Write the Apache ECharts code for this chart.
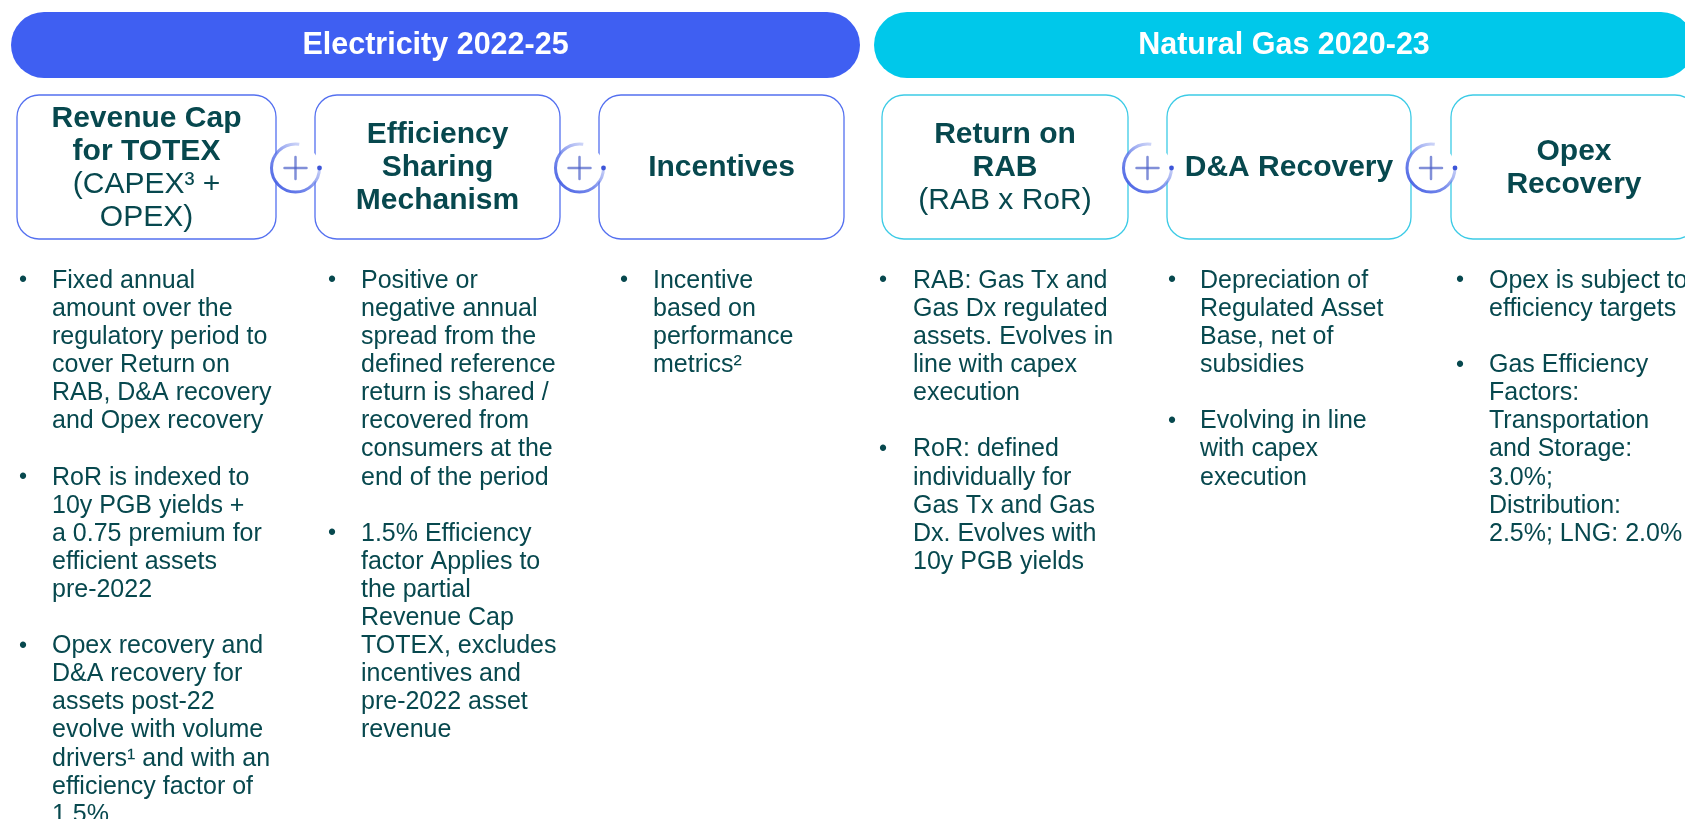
<!DOCTYPE html>
<html>
<head>
<meta charset="utf-8">
<script src="https://cdn.jsdelivr.net/npm/echarts@6/dist/echarts.min.js"></script>
<style>
  html, body { margin: 0; padding: 0; background: #fff; }
  #main { width: 1685px; height: 819px; }
</style>
</head>
<body>
<div id="main"></div>
<script>
'use strict';
/* regulatory framework overview: two sections, six building blocks, bullet notes */

var sectionTitles = ['Electricity 2022-25', 'Natural Gas 2020-23'];
var sectionColors = ['#3f5ff2', '#00c8ea'];

// bold heading lines, then regular sub lines, one entry per box
var boxHeads = [
  ['Revenue Cap', 'for TOTEX'],
  ['Efficiency', 'Sharing', 'Mechanism'],
  ['Incentives'],
  ['Return on', 'RAB'],
  ['D&A Recovery'],
  ['Opex', 'Recovery']
];
var boxSubs = [
  ['(CAPEX\u00b3 +', 'OPEX)'],
  [],
  [],
  ['(RAB x RoR)'],
  [],
  []
];
var boxSection = [0, 0, 0, 1, 1, 1];

// bullet notes under each box (lines as broken on the slide)
var bullets = [
  [
    ['Fixed annual', 'amount over the', 'regulatory period to', 'cover Return on', 'RAB, D&A recovery', 'and Opex recovery'],
    ['RoR is indexed to', '10y PGB yields +', 'a 0.75 premium for', 'efficient assets', 'pre-2022'],
    ['Opex recovery and', 'D&A recovery for', 'assets post-22', 'evolve with volume', 'drivers\u00b9 and with an', 'efficiency factor of', '1.5%']
  ],
  [
    ['Positive or', 'negative annual', 'spread from the', 'defined reference', 'return is shared /', 'recovered from', 'consumers at the', 'end of the period'],
    ['1.5% Efficiency', 'factor Applies to', 'the partial', 'Revenue Cap', 'TOTEX, excludes', 'incentives and', 'pre-2022 asset', 'revenue']
  ],
  [
    ['Incentive', 'based on', 'performance', 'metrics\u00b2']
  ],
  [
    ['RAB: Gas Tx and', 'Gas Dx regulated', 'assets. Evolves in', 'line with capex', 'execution'],
    ['RoR: defined', 'individually for', 'Gas Tx and Gas', 'Dx. Evolves with', '10y PGB yields']
  ],
  [
    ['Depreciation of', 'Regulated Asset', 'Base, net of', 'subsidies'],
    ['Evolving in line', 'with capex', 'execution']
  ],
  [
    ['Opex is subject to', 'efficiency targets'],
    ['Gas Efficiency', 'Factors:', 'Transportation', 'and Storage:', '3.0%;', 'Distribution:', '2.5%; LNG: 2.0%']
  ]
];

// layout
var FONT = '"Liberation Sans", Arial, sans-serif';
var TEAL = '#07484e';
var barX = [11, 874];
var barW = [849, 820];
var barY = 12, barH = 66;
var boxX = [17, 315, 599, 882, 1167, 1451];
var boxW = [259, 245, 245, 246, 244, 246];
var boxY = 95, boxH = 144;
var boxBorder = ['#5470f0', '#3ccbe6'];
var dotX = [23, 332, 624, 883, 1172, 1460];
var textX = [52, 361, 653, 913, 1200, 1489];
var bulletTop = 281;
var lineH = 28.1;
var headLineH = 33;

var elements = [];

// section bars
for (var s = 0; s < sectionTitles.length; s++) {
  elements.push({
    type: 'rect',
    shape: { x: barX[s], y: barY, width: barW[s], height: barH, r: barH / 2 },
    style: { fill: sectionColors[s] }
  });
  elements.push({
    type: 'text',
    x: s === 0 ? barX[s] + barW[s] / 2 : 1284,
    y: barY + barH / 2 + 1,
    style: {
      text: sectionTitles[s],
      font: 'bold 30.5px ' + FONT,
      fill: '#ffffff',
      align: 'center',
      verticalAlign: 'middle'
    }
  });
}

// boxes
for (var b = 0; b < boxHeads.length; b++) {
  elements.push({
    type: 'rect',
    shape: { x: boxX[b], y: boxY, width: boxW[b], height: boxH, r: 22 },
    style: { fill: '#ffffff', stroke: boxBorder[boxSection[b]], lineWidth: 1.3 }
  });
  var lines = [];
  for (var i = 0; i < boxHeads[b].length; i++) lines.push({ t: boxHeads[b][i], bold: true });
  for (var j = 0; j < boxSubs[b].length; j++) lines.push({ t: boxSubs[b][j], bold: false });
  var cy = boxY + boxH / 2 + 1;
  var y0 = cy - (lines.length - 1) * headLineH / 2;
  for (var k = 0; k < lines.length; k++) {
    elements.push({
      type: 'text',
      x: boxX[b] + boxW[b] / 2,
      y: y0 + k * headLineH,
      style: {
        text: lines[k].t,
        font: (lines[k].bold ? 'bold ' : '') + '30px ' + FONT,
        fill: TEAL,
        align: 'center',
        verticalAlign: 'middle'
      }
    });
  }
}

// plus connectors between boxes of the same section
for (var p = 0; p < boxX.length - 1; p++) {
  if (boxSection[p] !== boxSection[p + 1]) continue;
  var px = (boxX[p] + boxW[p] + boxX[p + 1]) / 2;
  var py = 168;
  elements.push({
    type: 'circle',
    shape: { cx: px, cy: py, r: 24 },
    style: { fill: '#ffffff' }
  });
  elements.push({
    type: 'arc',
    shape: { cx: px, cy: py, r: 24, startAngle: 0, endAngle: Math.PI * 1.55, clockwise: true },
    style: {
      fill: null,
      lineWidth: 3,
      stroke: new echarts.graphic.LinearGradient(1, 0, 0, 1, [
        { offset: 0, color: 'rgba(160,175,240,0.1)' },
        { offset: 0.55, color: 'rgba(80,105,230,0.75)' },
        { offset: 1, color: '#3a55e2' }
      ])
    }
  });
  elements.push({
    type: 'circle',
    shape: { cx: px + 24, cy: py, r: 2.4 },
    style: { fill: '#3d55d8' }
  });
  elements.push({
    type: 'line',
    shape: { x1: px - 11, y1: py, x2: px + 11, y2: py },
    style: { stroke: 'rgba(75,95,200,0.7)', lineWidth: 2.5, lineCap: 'round' }
  });
  elements.push({
    type: 'line',
    shape: { x1: px, y1: py - 11, x2: px, y2: py + 11 },
    style: { stroke: 'rgba(75,95,200,0.7)', lineWidth: 2.5, lineCap: 'round' }
  });
}

// bullet notes
for (var c = 0; c < bullets.length; c++) {
  var row = 0;
  for (var it = 0; it < bullets[c].length; it++) {
    var item = bullets[c][it];
    elements.push({
      type: 'text',
      x: dotX[c],
      y: bulletTop + row * lineH,
      style: {
        text: '\u2022',
        font: '23px ' + FONT,
        fill: TEAL,
        align: 'center',
        verticalAlign: 'middle'
      }
    });
    for (var ln = 0; ln < item.length; ln++) {
      elements.push({
        type: 'text',
        x: textX[c],
        y: bulletTop + row * lineH,
        style: {
          text: item[ln],
          font: '25px ' + FONT,
          fill: TEAL,
          align: 'left',
          verticalAlign: 'middle'
        }
      });
      row++;
    }
    row++; // blank line between items
  }
}

var chart = echarts.init(document.getElementById('main'));
chart.setOption({
  backgroundColor: '#ffffff',
  animation: false,
  graphic: { elements: elements }
});
</script>
</body>
</html>
